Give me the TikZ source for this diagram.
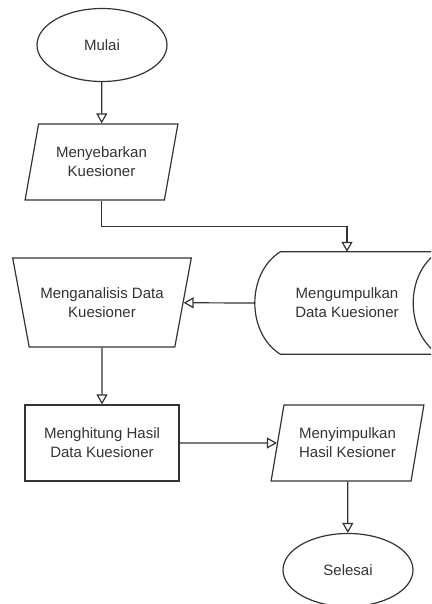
\documentclass[tikz,border=0pt]{standalone}
\usepackage{fontspec}
\setmainfont{Liberation Sans}
\usetikzlibrary{arrows.meta, positioning, calc, shapes.geometric}

\begin{document}
\begin{tikzpicture}[
  x=1pt, y=-1pt,
  every node/.style={font=\fontsize{15}{19}\selectfont, text=black!80, align=center, inner sep=0pt},
  terminal/.style={draw=black!80, ellipse, line width=1.2pt, minimum width=130pt, minimum height=73pt},
  proc/.style={draw=black!80, rectangle, line width=1.2pt, minimum width=154pt, minimum height=76pt},
  io/.style={draw=black!80, trapezium, trapezium left angle=72, trapezium right angle=108,
    trapezium stretches=true, line width=1.2pt, minimum width=153pt, minimum height=76pt},
  manual/.style={draw=black!80, trapezium, trapezium angle=65, shape border rotate=180,
    trapezium stretches=true, line width=1.2pt, minimum width=179pt, minimum height=89pt},
  store/.style={rectangle, minimum width=183pt, minimum height=102pt},
  arr/.style={-{Triangle[open, length=10pt, width=11pt]}, line width=1.2pt, draw=black!80}
]
  \clip (0,0) rectangle (431,604);
  \node[terminal] (mulai) at (102,45) {Mulai};
  \node[io] (sebar) at (101.5,162) {Menyebarkan\\Kuesioner};
  \node[store] (kumpul) at (347,303) {Mengumpulkan\\Data Kuesioner};
  \node[manual] (analisis) at (102,302.5) {Menganalisis Data\\Kuesioner};
  \node[proc] (hitung) at (102,443) {Menghitung Hasil\\Data Kuesioner};
  \node[io] (simpul) at (347.5,443) {Menyimpulkan\\Hasil Kesioner};
  \node[terminal] (selesai) at (348,570) {Selesai};
  % stored data outline
  \draw[black!80, line width=1.2pt]
    ($(kumpul.north west)+(25,0)$) -- (kumpul.north east)
    .. controls ($(kumpul.east)+(-34,-30)$) and ($(kumpul.east)+(-34,30)$) .. (kumpul.south east)
    -- ($(kumpul.south west)+(25,0)$)
    .. controls ($(kumpul.west)+(-9,30)$) and ($(kumpul.west)+(-9,-30)$) .. cycle;
  % connectors
  \draw[arr] (mulai) -- (sebar);
  \draw[arr] (sebar.south) -- ++(0,26) -| (kumpul.north);
  \draw[arr] (kumpul.west) -- (analisis);
  \draw[arr] (analisis) -- (hitung);
  \draw[arr] (hitung) -- (simpul);
  \draw[arr] (simpul) -- (selesai);
\end{tikzpicture}
\end{document}
